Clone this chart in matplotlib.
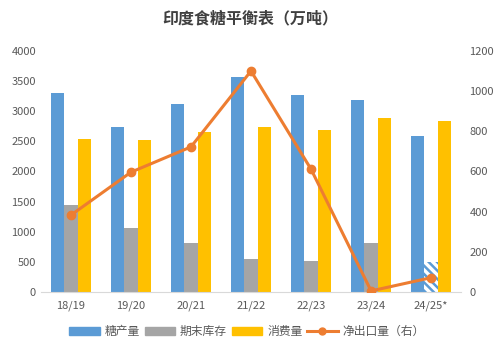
import matplotlib
matplotlib.use("Agg")
import matplotlib.pyplot as plt
import numpy as np
from matplotlib.patches import Patch
from matplotlib.lines import Line2D

plt.rcParams['font.family'] = ['Noto Sans CJK SC', 'DejaVu Sans']
plt.rcParams['hatch.linewidth'] = 1.8

categories = ["18/19", "19/20", "20/21", "21/22", "22/23", "23/24", "24/25*"]
production = [3300, 2740, 3120, 3570, 3270, 3190, 2590]
stock = [1450, 1065, 815, 550, 515, 815, 500]
consumption = [2540, 2525, 2655, 2740, 2690, 2890, 2840]
net_export = [382, 596, 722, 1100, 611, 5, 71]

blue = "#5B9BD5"
gray = "#A5A5A5"
yellow = "#FFC000"
orange = "#ED7D31"
tick_color = "#595959"

fig = plt.figure(figsize=(5.04, 3.56), dpi=100)
ax = fig.add_axes([0.081, 0.180, 0.834, 0.677])
x = np.arange(len(categories))
w = 0.222

ax.bar(x - w, production, w, color=blue, zorder=2)
for i in range(len(categories)):
    if i == len(categories) - 1:
        ax.bar(x[i], stock[i], w, color="white", edgecolor=blue, hatch="\\\\\\\\", linewidth=0, zorder=2)
    else:
        ax.bar(x[i], stock[i], w, color=gray, zorder=2)
ax.bar(x + w, consumption, w, color=yellow, zorder=2)

ax.set_xlim(-0.5, len(categories) - 0.5)
ax.set_ylim(0, 4000)
ax.set_yticks(range(0, 4001, 500))
ax.set_xticks(x)
ax.set_xticklabels(categories)
for s in ["top", "right", "left"]:
    ax.spines[s].set_visible(False)
ax.spines["bottom"].set_color("#D9D9D9")
ax.tick_params(axis="both", length=0, colors=tick_color, labelsize=8)
ax.tick_params(axis="x", pad=6)

ax2 = ax.twinx()
ax2.plot(x, net_export, color=orange, linewidth=2.2, marker="o", markersize=6, zorder=3)
ax2.set_ylim(0, 1200)
ax2.set_yticks(range(0, 1201, 200))
for s in ["top", "right", "left", "bottom"]:
    ax2.spines[s].set_visible(False)
ax2.tick_params(axis="y", length=0, colors=tick_color, labelsize=8, pad=6)

fig.text(0.497, 0.948, "印度食糖平衡表（万吨）", ha="center", va="center",
         fontsize=11.5, fontweight="bold", color="#404040")

handles = [Patch(color=blue), Patch(color=gray), Patch(color=yellow),
           Line2D([0], [0], color=orange, linewidth=2.2, marker="o", markersize=5)]
labels = ["糖产量", "期末库存", "消费量", "净出口量（右）"]
fig.legend(handles, labels, loc="center", bbox_to_anchor=(0.49, 0.068), ncol=4,
           frameon=False, fontsize=8.5, handlelength=2.6, handleheight=0.6,
           handletextpad=0.4, columnspacing=0.4, labelcolor=tick_color)

fig.savefig("out.png", dpi=100)
